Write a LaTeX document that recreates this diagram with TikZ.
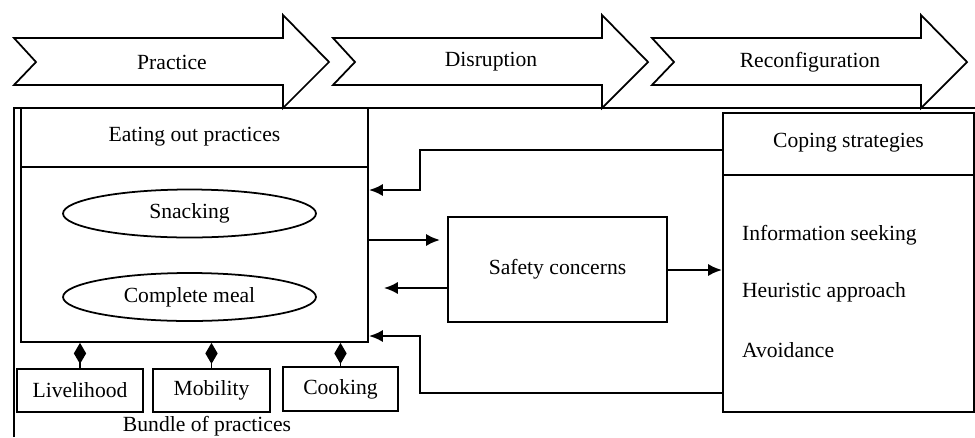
\documentclass[tikz,border=0pt]{standalone}
\usepackage{fontspec}
\setmainfont{Liberation Serif}
\usetikzlibrary{arrows.meta,shapes.geometric}

\begin{document}
\begin{tikzpicture}[x=0.02cm,y=-0.02cm]
  \tikzset{box/.style = {draw, line width=1pt, inner sep=0pt}}
  \tikzset{oval/.style = {draw, ellipse, line width=1pt, inner sep=0pt, minimum width=5.06cm, minimum height=0.96cm}}
  \tikzset{txt/.style = {font=\fontsize{12.3}{14}\selectfont, inner sep=1pt}}
  \tikzset{flow/.style = {line width=1.5pt, -{Latex[length=8pt,width=7pt]}}}
  \tikzset{part/.style = {line width=1pt, -{Diamond[length=12pt,width=7pt]}}}
  \tikzset{phase/.style = {line width=1pt, line join=miter}}

  \useasboundingbox (0,0) rectangle (975,437);

% phases
\foreach \x/\name/\lbl in {14/practice/Practice, 333/disrupt/Disruption, 652/reconf/Reconfiguration} {
  \draw[phase] (\x,38) -- (\x+269,38) -- (\x+269,15) -- (\x+315,62) -- (\x+269,108)
    -- (\x+269,85) -- (\x,85) -- (\x+22,62) -- cycle;
  \node[txt] (\name) at (\x+158,62) {\lbl};
}
\draw[phase] (14,437) -- (14,108) -- (975,108);

% eating out
\node[box, minimum width=6.94cm, minimum height=4.68cm] (eat) at (194.5,225) {};
\draw[phase] (21,167) -- (368,167);
\node[txt] (eathead) at (194.5,137) {Eating out practices};
\node[oval] (snack) at (189.5,213.5) {};
\node[txt] at (snack) {Snacking};
\node[oval] (meal) at (189.5,297) {};
\node[txt] at (meal) {Complete meal};

% bundle
\node[box, txt, minimum width=2.52cm, minimum height=0.86cm] (live) at (80,390.5) {Livelihood};
\node[box, txt, minimum width=2.34cm, minimum height=0.86cm] (mob) at (211.5,390.5) {Mobility};
\node[box, txt, minimum width=2.3cm, minimum height=0.88cm] (cook) at (340.5,389) {Cooking};
\node[txt] (bundle) at (207,426) {Bundle of practices};

\path[part] (live.north) edge (live.north |- eat.south);
\path[part] (mob.north) edge (mob.north |- eat.south);
\path[part] (cook.north) edge (cook.north |- eat.south);

% safety
\node[box, txt, minimum width=4.38cm, minimum height=2.1cm] (safe) at (557.5,269.5) {Safety concerns};

% coping
\node[box, minimum width=5.02cm, minimum height=5.98cm] (cope) at (848.5,262.5) {};
\draw[phase] (723,175) -- (974,175);
\node[txt] (copehead) at (848.5,143) {Coping strategies};
\node[txt, anchor=west] (info) at (740,235) {Information seeking};
\node[txt, anchor=west] (heur) at (740,292) {Heuristic approach};
\node[txt, anchor=west] (avoid) at (740,350) {Avoidance};

% connectors
\coordinate (hi) at (420,150);
\coordinate (lo) at (420,393);
\coordinate (in1) at (0,190);
\coordinate (in2) at (0,336);
\coordinate (out1) at (0,240);
\coordinate (out2) at (0,288);
\coordinate (out3) at (0,270);

\path[flow] (eat.east |- out1) edge[shorten >=4pt] (safe.west |- out1);
\path[flow] (safe.west |- out2) edge[shorten >=8.5pt] (eat.east |- out2);
\path[flow] (safe.east |- out3) edge (cope.west |- out3);
\draw[flow] (cope.west |- hi) -- (hi) |- (eat.east |- in1);
\draw[flow] (cope.west |- lo) -- (lo) |- (eat.east |- in2);

\end{tikzpicture}
\end{document}
